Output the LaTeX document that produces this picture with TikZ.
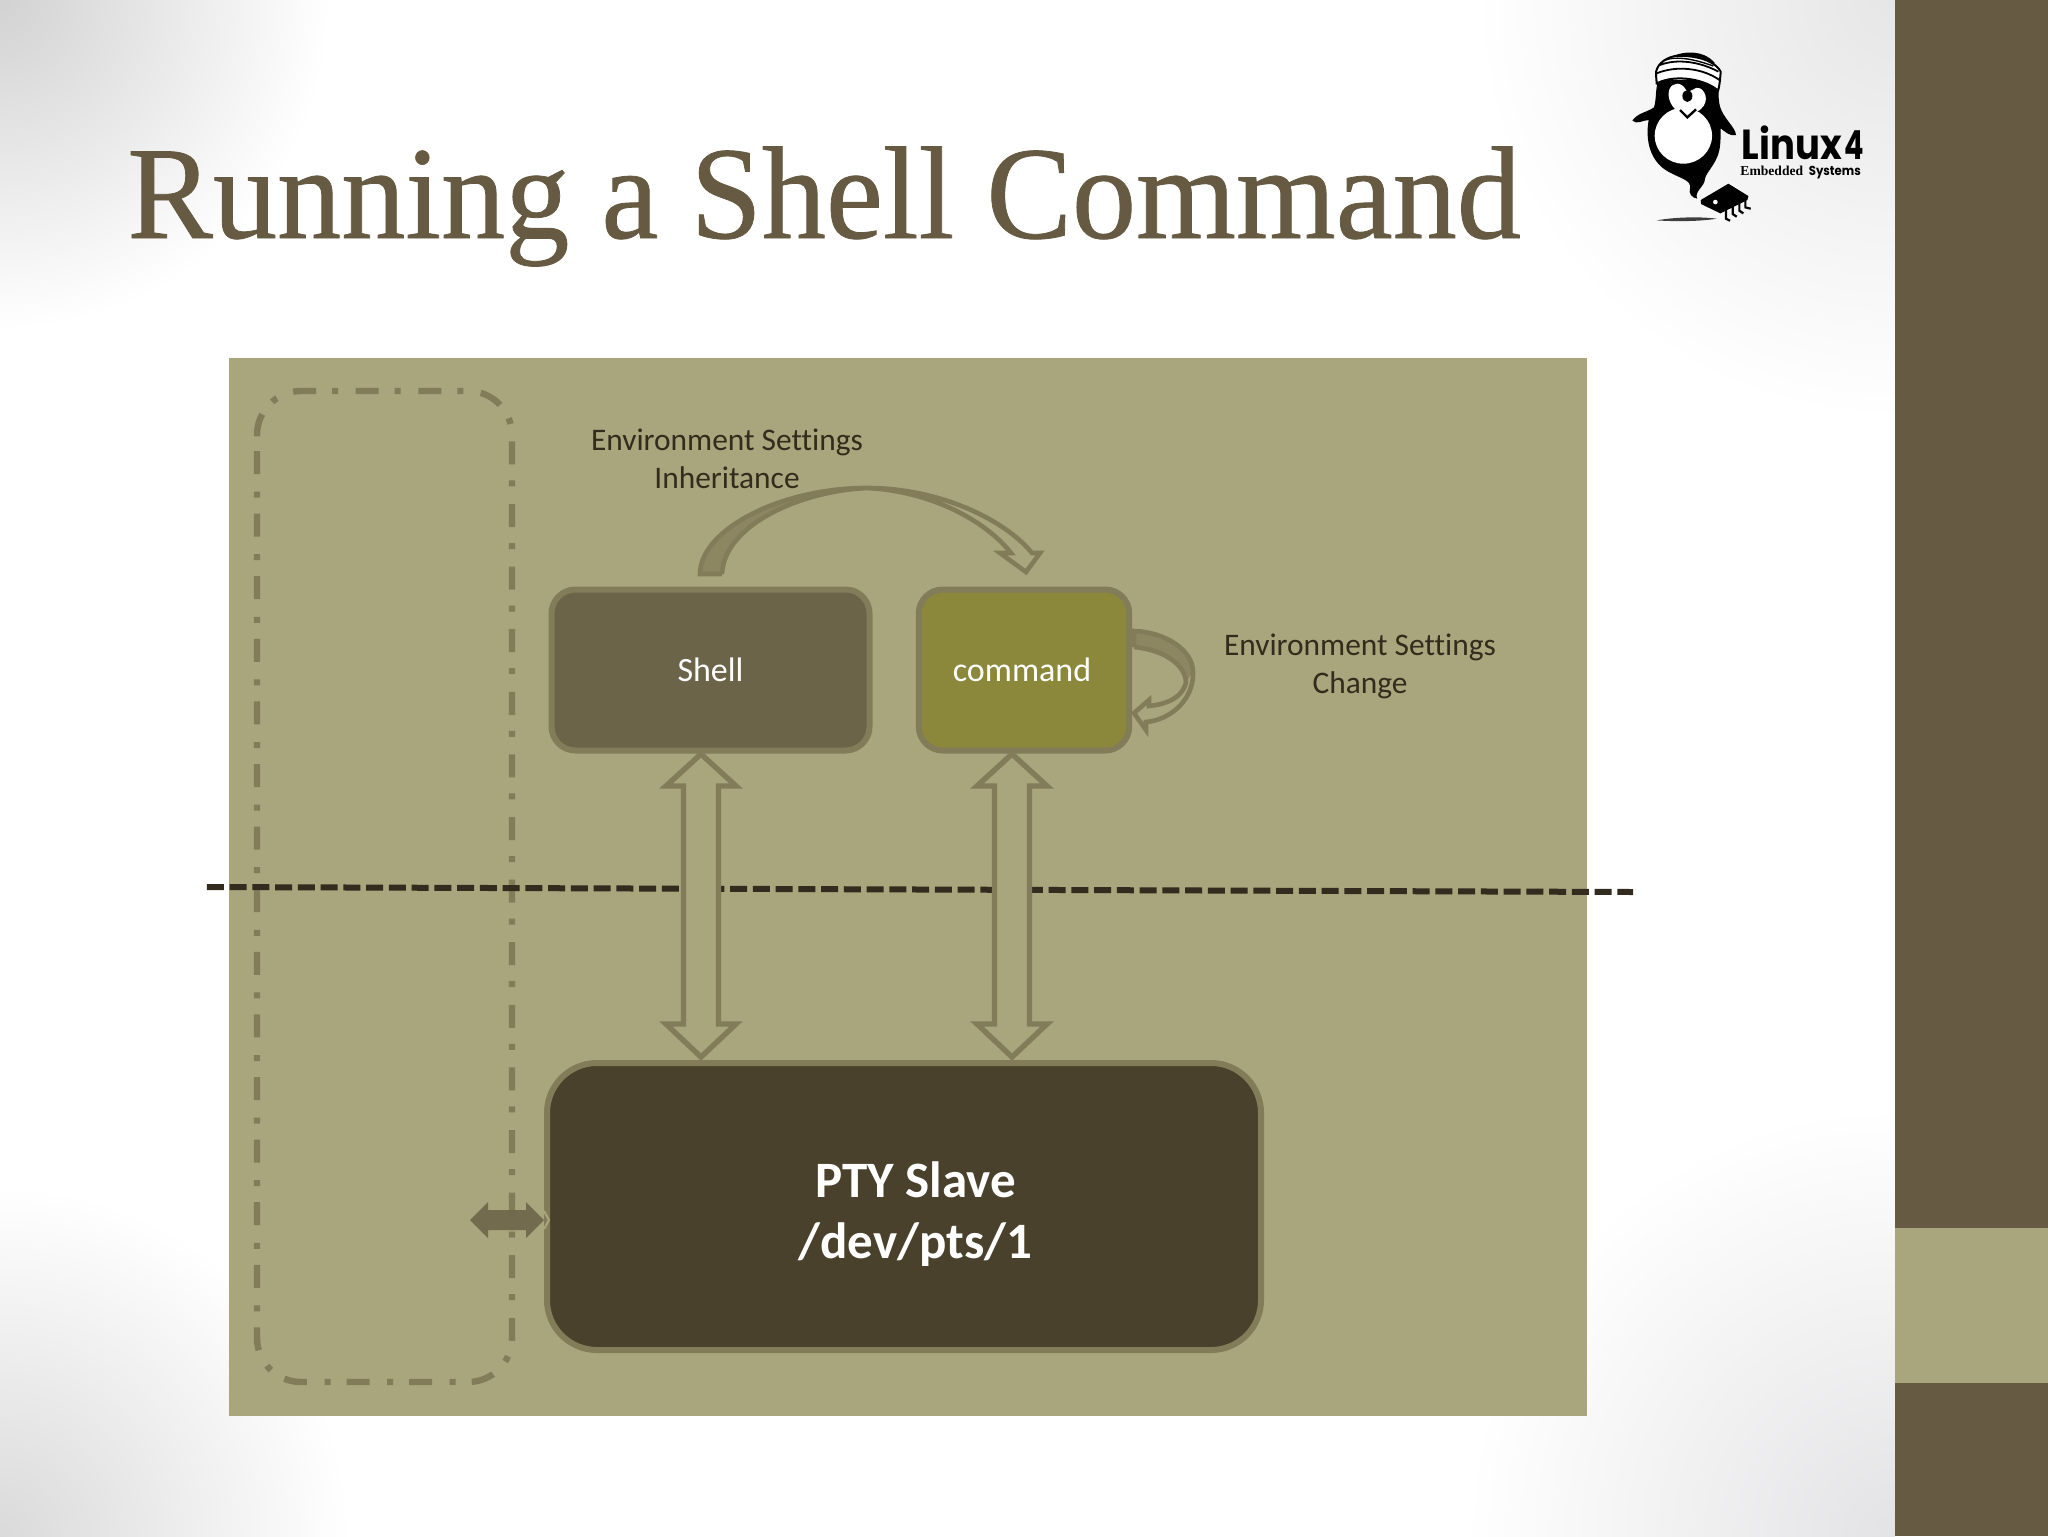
\documentclass[tikz,border=0pt]{standalone}
\usepackage{fontspec}
\setmainfont[Ligatures=NoCommon]{Carlito}
\newfontfamily\titlefont[FakeBold=0.6]{Liberation Serif}
\newfontfamily\logofont{Poppins}
\newfontfamily\logoserif{Liberation Serif}
\usetikzlibrary{calc}
\definecolor{sidedark}{HTML}{665B42}
\definecolor{panel}{HTML}{A9A57C}
\definecolor{edgeol}{HTML}{827C59}
\definecolor{shellfill}{HTML}{6C6449}
\definecolor{cmdfill}{HTML}{8B883C}
\definecolor{ptyfill}{HTML}{4A412C}
\definecolor{labeltext}{HTML}{332C1C}
\definecolor{dashline}{HTML}{332B1E}
\definecolor{tailfill}{HTML}{8C8761}
\definecolor{smallarrow}{HTML}{6F674A}
\definecolor{cornertl}{HTML}{D2D2D2}
\definecolor{cornerbl}{HTML}{DADADA}
\definecolor{cornerbr}{HTML}{E3E3E5}
\definecolor{cornertr}{HTML}{E6E6E6}
\tikzset{
  box/.style={draw=edgeol,line width=3pt,inner sep=0pt,outer sep=0pt,rounded corners=12pt,text=white,font=\fontsize{17}{20}\selectfont},
  lbl/.style={inner sep=0pt,align=center,text=labeltext,font=\fontsize{15.7}{18.9}\selectfont},
  blockarrow/.style={draw=edgeol,fill=panel,line width=2.7pt,miter limit=10,line join=miter},
  ribbon/.style={draw=edgeol,line width=2.3pt,line join=miter,miter limit=10},
  ink/.style={fill=black,draw=none},
  cornerfade/.style={inner color=#1,outer color=white,draw=none}
}
\newcommand{\dblblock}[4]{%
  \draw[blockarrow] (#1) -- ($(#1)+(#4,32)$) -- ($(#1)+(#3,32)$) -- ($(#2)+(#3,-33)$) -- ($(#2)+(#4,-33)$) -- (#2)
   -- ($(#2)+(-#4,-33)$) -- ($(#2)+(-#3,-33)$) -- ($(#1)+(-#3,32)$) -- ($(#1)+(-#4,32)$) -- cycle;}
\begin{document}
\begin{tikzpicture}[x=0.5pt,y=-0.5pt]
\useasboundingbox (0,0) rectangle (2048,1536);
\fill[white] (0,0) rectangle (1895,1536);
\begin{scope}
  \clip (0,0) rectangle (1895,1536);
  \shade[cornerfade=cornertl] (0,0) circle (330);
  \shade[cornerfade=cornerbl] (0,1536) circle (350);
  \shade[cornerfade=cornerbr] (1895,1536) circle (430);
  \shade[cornerfade=cornertr] (1895,0) circle (420);
\end{scope}
\fill[sidedark] (1895,0) rectangle (2048,1536);
\fill[panel] (1895,1228) rectangle (2048,1383);
\node[anchor=base west,inner sep=0pt,text=sidedark] (title) at (127,238) {\scalebox{0.972}[1]{\titlefont\fontsize{66}{70}\selectfont Running a Shell Command}};

% logo
\begin{scope}[shift={(1600,30)},x=0.1667pt,y=-0.1667pt]
  \fill[black,opacity=.75] (170,571) .. controls (230,560) and (310,560) .. (350,566) .. controls (300,574) and (230,575) .. (170,571) -- cycle;
  \path[ink] (175,150) .. controls (165,180) and (170,205) .. (162,232) .. controls (145,245) and (110,250) .. (97,272)
     .. controls (110,285) and (130,270) .. (146,270) .. controls (135,330) and (150,395) .. (205,425)
     .. controls (240,445) and (275,450) .. (270,475) .. controls (265,490) and (275,503) .. (292,506)
     .. controls (280,485) and (315,470) .. (315,445) .. controls (320,425) and (350,400) .. (358,360)
     .. controls (362,340) and (362,310) .. (362,295) .. controls (375,305) and (390,320) .. (408,315)
     .. controls (405,290) and (370,265) .. (360,230) .. controls (352,200) and (358,175) .. (355,150) -- cycle;
  \fill[white] (250,317) ellipse [x radius=86,y radius=84];
  \fill[white] (262,268) -- (240,248) .. controls (215,235) and (200,205) .. (208,178) .. controls (218,155) and (245,155) .. (258,180)
     .. controls (270,195) and (285,165) .. (300,175) .. controls (320,185) and (330,225) .. (290,245) -- cycle;
  \fill[black] (262,198) ellipse [x radius=15,y radius=18];
  \draw[black,line width=1.2pt] (240,240) -- (262,262) -- (288,238);
  \fill[black] (195,95) .. controls (230,60) and (310,55) .. (345,100) -- cycle;
  \draw[black,fill=white,line width=1pt] (168,135) .. controls (165,110) and (190,85) .. (225,78) .. controls (270,75) and (340,85) .. (362,125)
     .. controls (360,150) and (358,170) .. (354,182) .. controls (320,150) and (230,130) .. (170,160) -- cycle;
  \draw[black,line width=.9pt] (180,105) .. controls (230,85) and (300,95) .. (355,125);
  \draw[black,line width=.9pt] (170,130) .. controls (230,105) and (310,115) .. (358,150);
  \draw[black,line width=.7pt] (190,92) .. controls (230,75) and (290,90) .. (340,108);
  % chip
  \path[ink] (302,510) -- (385,461) -- (445,498) -- (442,510) -- (361,550) -- (303,522) -- cycle;
  \fill[white] (346,516) circle (7);
  \draw[black,line width=1.1pt] (378,538) -- (378,566) -- (390,572);
  \draw[black,line width=1.1pt] (398,528) -- (398,552) -- (410,560);
  \draw[black,line width=1.1pt] (418,518) -- (418,542) -- (430,550);
  \draw[black,line width=1.1pt] (436,508) -- (436,532) -- (452,536);
  \node[anchor=base west,inner sep=0pt,text=black] (logoa) at (424,388) {\scalebox{0.88}[1]{\logofont\fontsize{21}{24}\selectfont\bfseries Linux}};
  \node[anchor=base west,inner sep=0pt,text=black] (logob) at (732,388) {\scalebox{0.72}[1]{\logofont\fontsize{20}{24}\selectfont\bfseries 4}};
  \node[anchor=base west,inner sep=0pt,text=black] (logoc) at (420,435) {\logoserif\fontsize{6.8}{8}\selectfont\bfseries Embedded};
  \node[anchor=base west,inner sep=0pt,text=black] (logod) at (625,435) {\scalebox{0.9}[1]{\logofont\fontsize{6.5}{8}\selectfont\bfseries Systems}};
\end{scope}

% panel
\fill[panel] (229,358) rectangle (1587,1416);
\draw[edgeol,line width=3.2pt,dash pattern=on 11.5pt off 8.8pt on 3pt off 8pt,rounded corners=22pt]
   (257,451) -- (257,1382) -- (512,1382) -- (512,391) -- (257,391) -- (257,451);

% dashed boundary
\coordinate (kl) at (206.9,887);
\coordinate (kr) at (1633,892);
\draw[dashline,line width=3pt,dash pattern=on 8.5pt off 2.875pt] (kl) -- (kr);

% boxes
\node[box,fill=shellfill,minimum width=159pt,minimum height=80.5pt] (shell) at (710.5,670) {Shell};
\node[box,fill=cmdfill,minimum width=105.2pt,minimum height=80.5pt] (command) at (1024,670) {\hspace*{-2pt}command};
\node[box,fill=ptyfill,rounded corners=25pt,minimum width=357pt,minimum height=143.5pt] (pty) at (904,1206.5) {};
\node[inner sep=0pt,align=center,text=white,font=\fontsize{25.5}{30.8}\selectfont\bfseries] (ptytext) at (915.5,1214) {PTY Slave\\/dev/pts/1};

% labels
\node[lbl] (inh) at (727,459) {Environment Settings\\Inheritance};
\node[lbl] (chg) at (1360,666.5) {Environment Settings\\Change};

% vertical block arrows
\coordinate (a1t) at (701,754);
\coordinate (a1b) at (701,1057);
\coordinate (a2t) at (1012,754);
\coordinate (a2b) at (1012,1057);
\dblblock{a1t}{a1b}{17.5}{35}
\dblblock{a2t}{a2b}{17.5}{35}

% inheritance curved arrow
\coordinate (ita) at (700,574);
\coordinate (itb) at (722,574);
\coordinate (ipk) at (867,488);
\coordinate (itip) at (1026,572);
\fill[tailfill] (ita) .. controls (700,530) and (780,488) .. (ipk) .. controls (800,491) and (724,525) .. (itb) -- cycle;
\draw[ribbon] (itb) -- (ita) .. controls (700,530) and (780,488) .. (ipk) .. controls (940,488) and (1005,520) .. (1032,553)
   -- (1040,553) -- (itip) -- (1000,553) -- (1011,553) .. controls (985,520) and (930,491) .. (ipk)
   .. controls (800,491) and (724,525) .. (itb);

% self loop
\coordinate (lta) at (1134,631);
\coordinate (ltb) at (1134,647);
\coordinate (ltip) at (1134,713);
\coordinate (lside) at (1193,672);
\fill[tailfill] (lta) .. controls (1165,632) and (1193,650) .. (lside) -- (1186,682) .. controls (1185,665) and (1165,650) .. (ltb) -- cycle;
\draw[ribbon] (ltb) -- (lta) .. controls (1165,632) and (1193,650) .. (lside)
   .. controls (1194,700) and (1170,720) .. (1146,722) -- (1146,730) -- (ltip) -- (1149,700) -- (1149,706)
   .. controls (1168,704) and (1183,697) .. (1186,682) .. controls (1185,665) and (1165,650) .. (ltb);

% small horizontal arrow
\coordinate (sl) at (470,1220);
\coordinate (sr) at (544,1220);
\fill[smallarrow,fill opacity=.92] (sl) -- ($(sl)+(18,-18)$) -- ($(sl)+(18,-10)$) -- ($(sr)+(-18,-10)$) -- ($(sr)+(-18,-18)$) -- (sr)
  -- ($(sr)+(-18,18)$) -- ($(sr)+(-18,10)$) -- ($(sl)+(18,10)$) -- ($(sl)+(18,18)$) -- cycle;
\draw[panel,line width=1pt] ($(sr)+(0,-9)$) -- ($(sr)+(5,0)$) -- ($(sr)+(0,9)$);
\end{tikzpicture}
\end{document}
